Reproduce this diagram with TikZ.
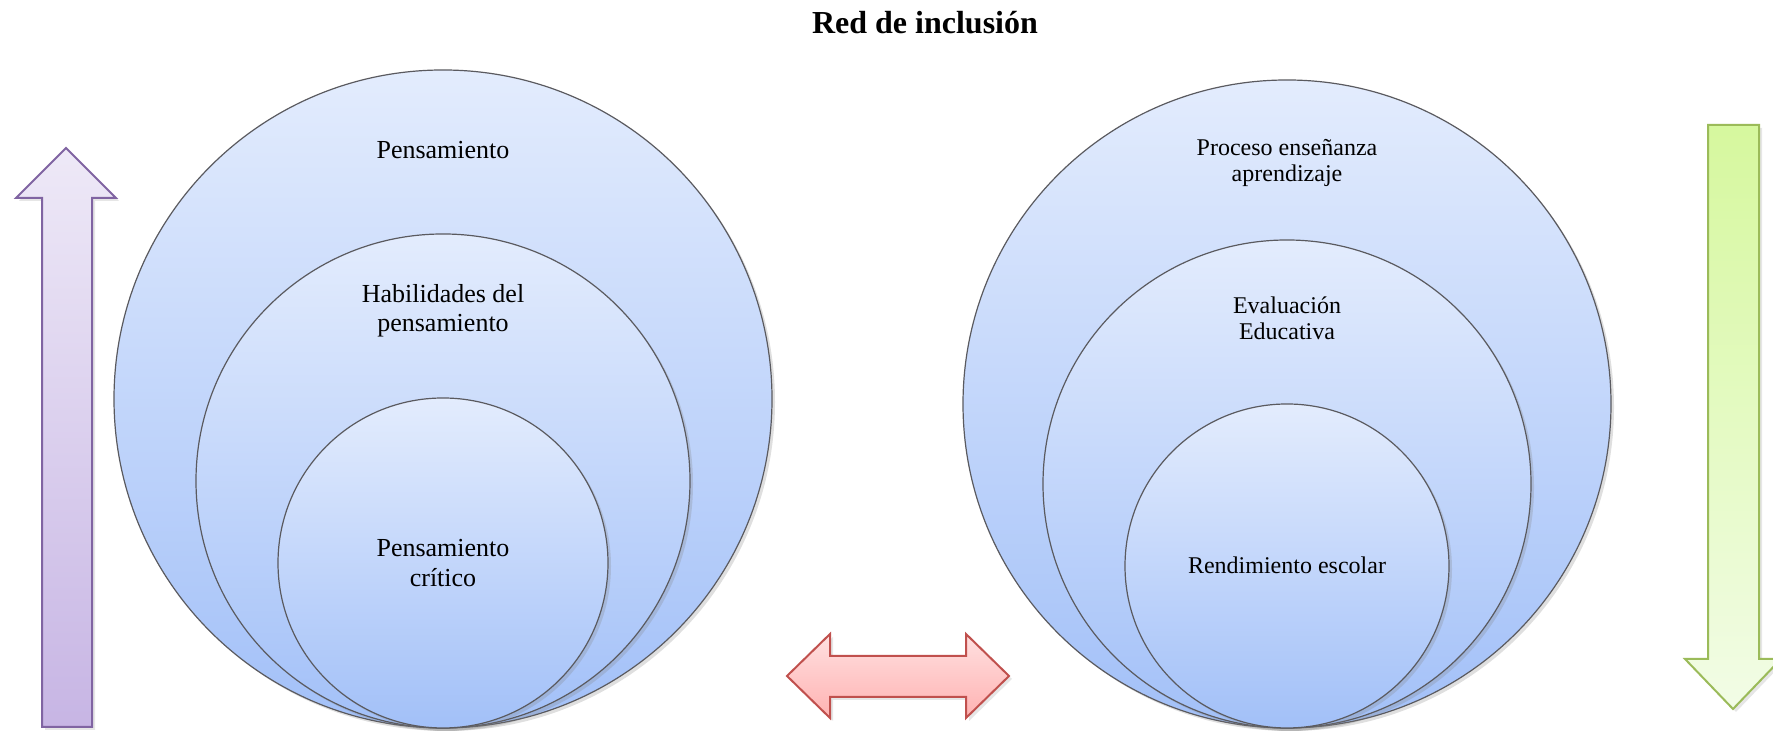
\documentclass[tikz,border=0pt]{standalone}
\usepackage{fontspec}
\setmainfont{Liberation Serif}
\usetikzlibrary{shadows}

\definecolor{circTop}{RGB}{227,236,253}
\definecolor{circBot}{RGB}{162,192,248}
\definecolor{circLine}{RGB}{90,90,95}
\definecolor{purpTop}{RGB}{238,233,247}
\definecolor{purpBot}{RGB}{199,181,228}
\definecolor{purpLine}{RGB}{128,100,162}
\definecolor{verdTop}{RGB}{214,248,158}
\definecolor{verdBot}{RGB}{242,252,230}
\definecolor{verdLine}{RGB}{155,187,89}
\definecolor{rojoTop}{RGB}{255,224,224}
\definecolor{rojoBot}{RGB}{255,178,178}
\definecolor{rojoLine}{RGB}{192,80,77}

\tikzset{
	circulo/.style={top color=circTop, bottom color=circBot, draw=circLine, line width=0.6pt,
		drop shadow={opacity=0.25, shadow xshift=1.5pt, shadow yshift=-1.5pt}},
	flecha/.style={line width=1pt, line join=miter,
		drop shadow={opacity=0.2, shadow xshift=1.5pt, shadow yshift=-1.5pt}},
	flechamorada/.style={flecha, top color=purpTop, bottom color=purpBot, draw=purpLine},
	flechaverde/.style={flecha, top color=verdTop, bottom color=verdBot, draw=verdLine},
	flecharoja/.style={flecha, top color=rojoTop, bottom color=rojoBot, draw=rojoLine},
	textoder/.style={align=center, font=\fontsize{12}{13}\selectfont},
}

\begin{document}
\begin{tikzpicture}[x=0.5pt, y=0.5pt, font=\fontsize{13}{14.7}\selectfont]
	\useasboundingbox (0,0) rectangle (1773,731);
	\node[font=\fontsize{16}{18}\selectfont\bfseries] (titulo) at (925,708) {Red de inclusión};

	% circulos de la izquierda
	\coordinate (ca) at (443,3);
	\foreach \r in {329,247,165}{%
		\shade [circulo] (ca)++(0,\r) circle[radius=\r];
	}
	\node (pensa) at (443,581) {Pensamiento};
	\node[align=center] (habil) at (443,420) {Habilidades del\\pensamiento};
	\node[align=center] (critic) at (443,168) {Pensamiento\\crítico};

	% circulos de la derecha
	\coordinate (cb) at (1287,3);
	\foreach \r in {324,244,162}{%
		\shade [circulo] (cb)++(0,\r) circle[radius=\r];
	}
	\node[textoder] (proceso) at (1287,568) {Proceso enseñanza\\aprendizaje};
	\node[textoder] (evalua) at (1287,413) {Evaluación\\Educativa};
	\node[textoder] (rendim) at (1287,166) {Rendimiento escolar};

	% flechas
	\shade [flechamorada] (42,4) -- (42,533) -- (16,533) -- (66,583)
		-- (116,533) -- (92,533) -- (92,4) -- cycle;
	\shade [flechaverde] (1708,606) -- (1708,72) -- (1685,72) -- (1733,22)
		-- (1781,72) -- (1759,72) -- (1759,606) -- cycle;
	\shade [flecharoja] (787,55) -- (830,97) -- (830,75) -- (966,75) -- (966,97)
		-- (1009,55) -- (966,13) -- (966,34) -- (830,34) -- (830,13) -- cycle;
\end{tikzpicture}
\end{document}
